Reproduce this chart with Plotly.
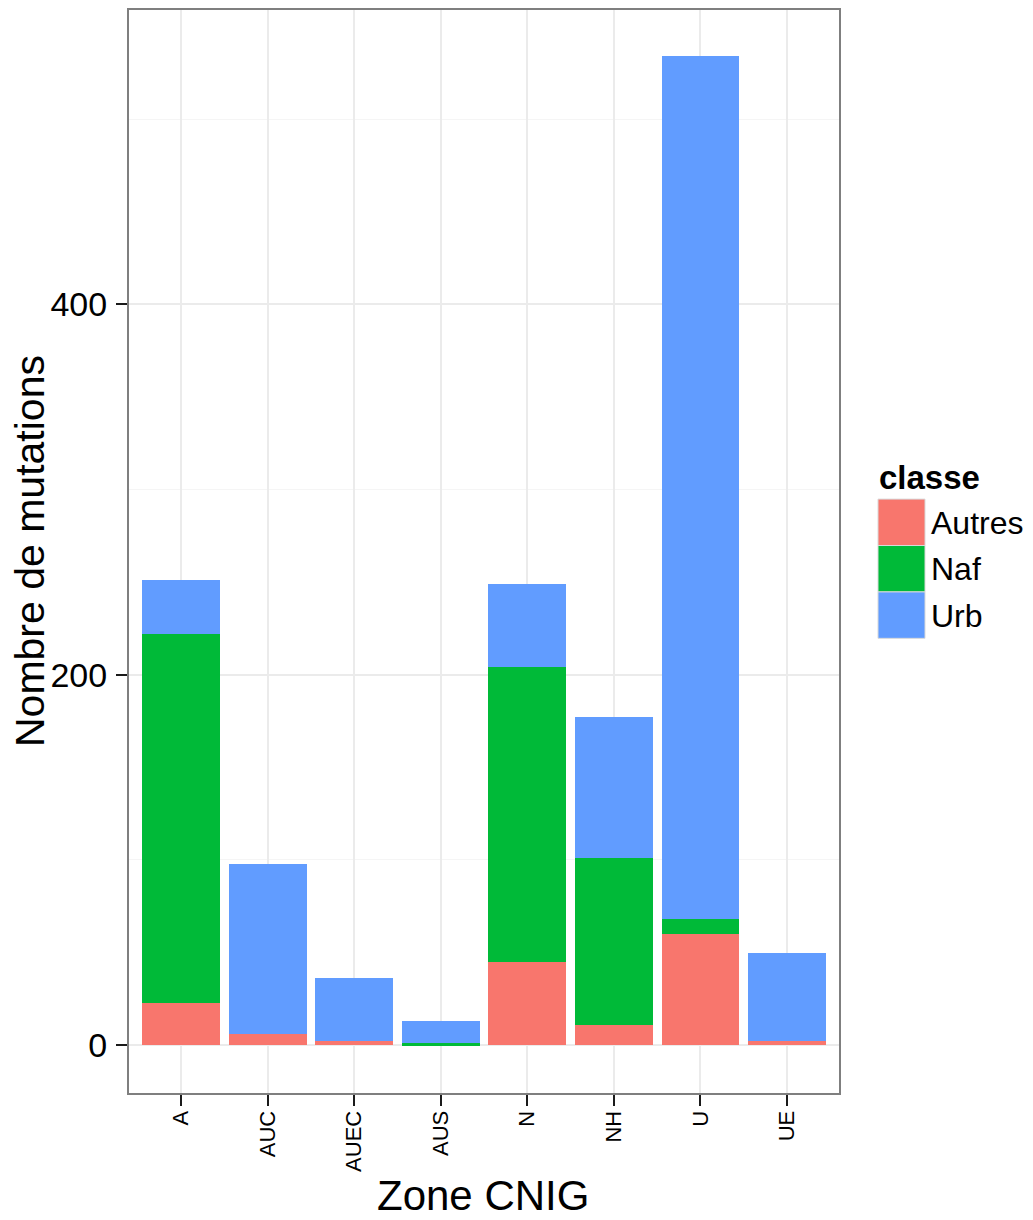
import plotly.graph_objects as go

zones = ["A", "AUC", "AUEC", "AUS", "N", "NH", "U", "UE"]
classes = ["Autres", "Naf", "Urb"]
autres = [23, 6, 2, 0, 45, 11, 60, 2]
naf = [199, 0, 0, 1, 159, 90, 8, 0]
urb = [29, 92, 34, 12, 45, 76, 466, 48]
colors = ["#F8766D", "#00BA38", "#619CFF"]
y_ticks = [0, 200, 400]
y_minor = [100, 300, 500]

series = [autres, naf, urb]
font = "Liberation Sans, Arial, sans-serif"

OFF = 8  # page body offset
W, H = 1033 - OFF, 1220 - OFF
# panel edges in page pixels
pl, pr, pt, pb = 129, 839, 8, 1093
pw, ph = pr - pl, pb - pt


def px_x(x):
    return (x - pl) / pw


def px_y(y):
    return (pb - y) / ph


fig = go.Figure()
for name, vals, col in zip(classes, series, colors):
    fig.add_trace(go.Bar(x=zones, y=vals, name=name, marker=dict(color=col, line=dict(width=0)),
                         width=0.9, showlegend=False))

# ggplot-style legend
fig.add_annotation(x=px_x(877), y=px_y(476), xref="paper", yref="paper", text="<b>classe</b>",
                   showarrow=False, xanchor="left", yanchor="middle",
                   font=dict(family=font, size=33, color="black"))
for i, (name, col) in enumerate(zip(classes, colors)):
    top = 498 + i * 46.5
    fig.add_shape(type="rect", xref="paper", yref="paper",
                  x0=px_x(878), x1=px_x(925), y0=px_y(top), y1=px_y(top + 46.5),
                  fillcolor=col, line=dict(color="#D9D9D9", width=1))
    fig.add_annotation(x=px_x(929), y=px_y(top + 24), xref="paper", yref="paper", text=name,
                       showarrow=False, xanchor="left", yanchor="middle",
                       font=dict(family=font, size=32, color="black"))

# axis titles
fig.add_annotation(x=px_x(483), y=px_y(1196), xref="paper", yref="paper", text="Zone CNIG",
                   showarrow=False, xanchor="center", yanchor="middle",
                   font=dict(family=font, size=42, color="black"))
fig.add_annotation(x=px_x(30), y=px_y(550), xref="paper", yref="paper", text="Nombre de mutations",
                   showarrow=False, xanchor="center", yanchor="middle", textangle=-90,
                   borderpad=0,
                   font=dict(family=font, size=41, color="black"))

# y scale: 0 at page y=1045, 400 at page y=303
scale = (1045 - 303) / 400.0
y_top = (1045 - pt) / scale
y_bot = (1045 - pb) / scale

fig.update_layout(
    barmode="stack",
    width=W, height=H,
    margin=dict(l=pl - OFF, r=W - (pr - OFF), t=pt - OFF, b=H - (pb - OFF)),
    paper_bgcolor="white",
    plot_bgcolor="white",
    font=dict(family=font, color="black"),
    xaxis=dict(
        tickangle=-90, tickfont=dict(size=22, color="black"),
        showgrid=True, gridcolor="#EBEBEB", gridwidth=1.5,
        ticks="outside", ticklen=11, tickcolor="#1A1A1A", tickwidth=2,
        ticklabelstandoff=-4,
        showline=True, linecolor="#7F7F7F", linewidth=2, mirror=True,
        range=[-0.6, 7.6],
    ),
    yaxis=dict(
        range=[y_bot, y_top],
        tickvals=y_ticks, tickfont=dict(size=34, color="black"),
        showgrid=True, gridcolor="#EBEBEB", gridwidth=1.5,
        minor=dict(tickvals=y_minor, showgrid=True, gridcolor="#F5F5F5", gridwidth=1),
        ticks="outside", ticklen=11, tickcolor="#1A1A1A", tickwidth=2,
        ticklabelstandoff=2,
        showline=True, linecolor="#7F7F7F", linewidth=2, mirror=True,
        zeroline=False,
    ),
)

fig.write_html("out.html")
